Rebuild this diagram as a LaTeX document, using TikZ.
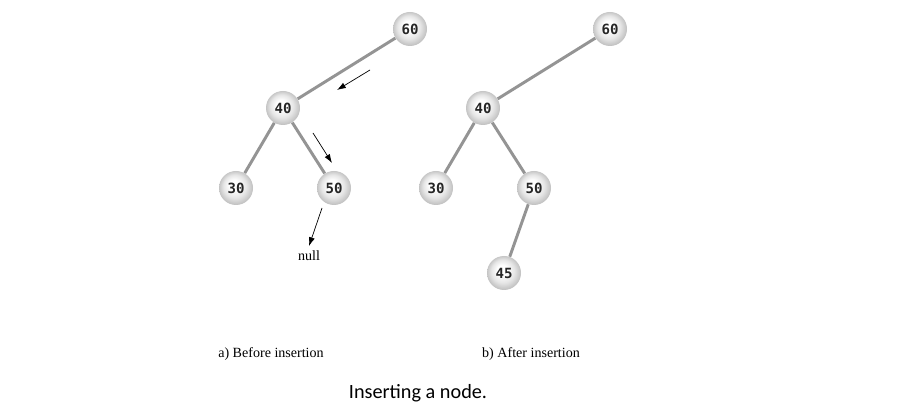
\documentclass[tikz,border=0pt]{standalone}
\usepackage{fontspec}
\setmainfont{Liberation Serif}
\newfontfamily\keyfont{DejaVu Sans Mono}
\newfontfamily\capfont{Carlito}
\usetikzlibrary{arrows.meta}

\pgfdeclareradialshading{keyball}{\pgfpoint{-4bp}{6bp}}{%
  color(0bp)=(white); color(7bp)=(white); color(17bp)=(black!10);
  color(25bp)=(black!24); color(30bp)=(black!28)}

\begin{document}
\begin{tikzpicture}[
    x=0.25mm, y=-0.25mm,
    >={Latex[length=2.2mm, width=1.5mm]},
    key/.style={circle, minimum size=34*0.25mm, inner sep=0pt, shading=keyball,
      text=black!85, font=\keyfont\bfseries\normalsize},
    edge/.style={draw=black!42, line width=2.1pt},
    pointer/.style={->, line width=0.5pt, draw=black},
    lbl/.style={font=\normalsize},
    captext/.style={font=\capfont\Large}
]
\useasboundingbox (0,0) rectangle (900,411);

% a) before insertion
\node[key] (l60) at (410,29) {60};
\node[key] (l40) at (283,108) {40};
\node[key] (l30) at (236,188) {30};
\node[key] (l50) at (334,188) {50};
\node[lbl] (null) at (309,256) {null};

\draw[edge] (l60) -- (l40);
\draw[edge] (l40) -- (l30);
\draw[edge] (l40) -- (l50);

% search path
\coordinate (p1s) at (370,70);
\coordinate (p1e) at (337,90);
\coordinate (p2s) at (313,133);
\coordinate (p2e) at (332,163);
\coordinate (p3s) at (322,208);
\draw[pointer] (p1s) -- (p1e);
\draw[pointer] (p2s) -- (p2e);
\draw[pointer] (p3s) -- (null.north);

% b) after insertion
\node[key] (r60) at (610,29) {60};
\node[key] (r40) at (483,108) {40};
\node[key] (r30) at (436,188) {30};
\node[key] (r50) at (534,188) {50};
\node[key] (r45) at (504,273) {45};

\draw[edge] (r60) -- (r40);
\draw[edge] (r40) -- (r30);
\draw[edge] (r40) -- (r50);
\draw[edge] (r50) -- (r45);

% labels
\node[lbl] (labA) at (271,354) {a) Before insertion};
\node[lbl] (labB) at (531,354) {b) After insertion};
\node[captext] (caption) at (418,393) {Inserting a node.};
\end{tikzpicture}
\end{document}
